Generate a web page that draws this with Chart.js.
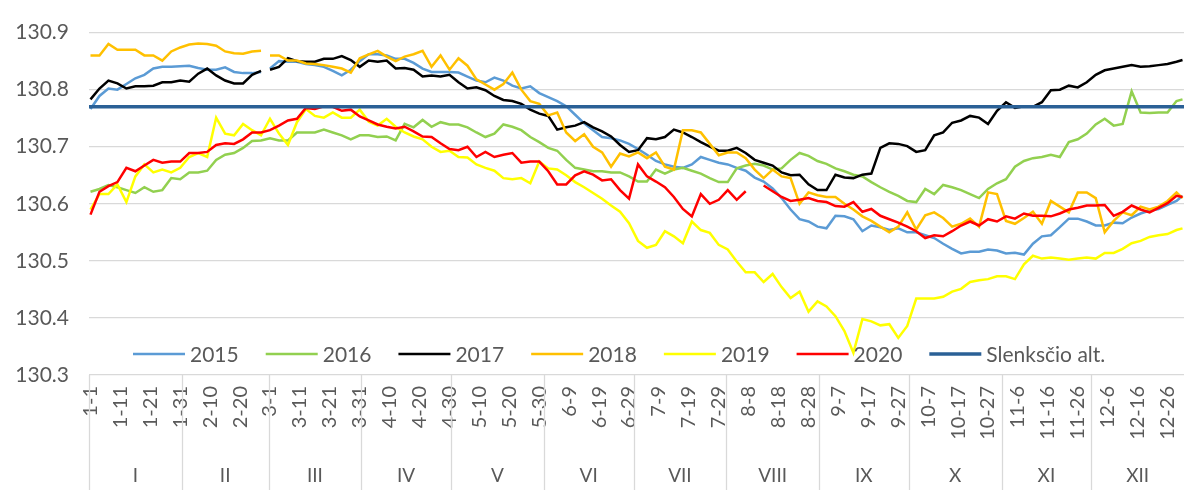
<!DOCTYPE html>
<html>
<head>
<meta charset="utf-8">
<title>Vandens lygis</title>
<script src="https://cdn.jsdelivr.net/npm/chart.js@4.4.1/dist/chart.umd.min.js"></script>
<style>
  html, body { margin: 0; padding: 0; background: #fff; }
</style>
</head>
<body>
<canvas id="chart" width="1184" height="490"></canvas>
<script>
// values are stored for every 3rd day of a (leap) year, plus Dec 31
const days = [];
for (let d = 0; d <= 363; d += 3) days.push(d);
days.push(365);

const y2015 = [
  130.766, 130.789, 130.802, 130.800, 130.810, 130.820, 130.826, 130.837, 130.840, 130.840, 130.841, 130.842, 130.838, 130.835, 130.835, 130.839, 130.831, 130.829, 130.829, 130.831,
  130.837, 130.850, 130.849, 130.849, 130.845, 130.843, 130.840, 130.833, 130.825, 130.835, 130.850, 130.862, 130.862, 130.860, 130.854, 130.854, 130.847, 130.837, 130.831, 130.831,
  130.831, 130.830, 130.823, 130.816, 130.813, 130.821, 130.816, 130.807, 130.802, 130.806, 130.794, 130.787, 130.780, 130.771, 130.756, 130.741, 130.729, 130.717, 130.715, 130.711,
  130.705, 130.696, 130.686, 130.675, 130.669, 130.665, 130.663, 130.669, 130.682, 130.677, 130.672, 130.669, 130.663, 130.658, 130.646, 130.639, 130.627, 130.610, 130.590, 130.573,
  130.569, 130.560, 130.557, 130.579, 130.578, 130.573, 130.552, 130.562, 130.559, 130.554, 130.557, 130.550, 130.550, 130.545, 130.540, 130.530, 130.521, 130.513, 130.516, 130.516,
  130.520, 130.518, 130.513, 130.514, 130.511, 130.530, 130.543, 130.545, 130.559, 130.574, 130.574, 130.569, 130.562, 130.562, 130.567, 130.566, 130.576, 130.583, 130.588, 130.591,
  130.598, 130.605, 130.614
];
const y2016 = [
  130.621, 130.626, 130.633, 130.629, 130.624, 130.619, 130.629, 130.621, 130.624, 130.645, 130.643, 130.655, 130.655, 130.658, 130.677, 130.686, 130.689, 130.698, 130.710, 130.711,
  130.715, 130.711, 130.711, 130.725, 130.725, 130.725, 130.730, 130.725, 130.720, 130.713, 130.720, 130.720, 130.717, 130.718, 130.711, 130.740, 130.734, 130.747, 130.735, 130.743,
  130.739, 130.739, 130.734, 130.725, 130.717, 130.723, 130.739, 130.735, 130.729, 130.717, 130.708, 130.698, 130.693, 130.677, 130.663, 130.660, 130.657, 130.657, 130.655, 130.655,
  130.648, 130.639, 130.639, 130.660, 130.653, 130.660, 130.663, 130.658, 130.653, 130.645, 130.638, 130.638, 130.662, 130.667, 130.670, 130.667, 130.660, 130.662, 130.677, 130.689,
  130.684, 130.675, 130.670, 130.662, 130.657, 130.651, 130.648, 130.638, 130.629, 130.621, 130.614, 130.605, 130.603, 130.626, 130.617, 130.633, 130.629, 130.624, 130.617, 130.610,
  130.626, 130.636, 130.643, 130.665, 130.675, 130.680, 130.682, 130.686, 130.682, 130.708, 130.713, 130.723, 130.739, 130.749, 130.737, 130.740, 130.797, 130.760, 130.759, 130.760,
  130.760, 130.780, 130.783
];
const y2017 = [
  130.783, 130.802, 130.816, 130.811, 130.802, 130.806, 130.806, 130.807, 130.813, 130.813, 130.816, 130.814, 130.828, 130.837, 130.825, 130.816, 130.811, 130.811, 130.826, 130.833,
  130.835, 130.840, 130.855, 130.850, 130.849, 130.849, 130.854, 130.854, 130.859, 130.852, 130.840, 130.851, 130.849, 130.851, 130.837, 130.838, 130.835, 130.823, 130.825, 130.823,
  130.826, 130.813, 130.802, 130.804, 130.799, 130.789, 130.782, 130.780, 130.775, 130.765, 130.758, 130.754, 130.730, 130.734, 130.737, 130.743, 130.734, 130.727, 130.718, 130.703,
  130.691, 130.694, 130.715, 130.713, 130.717, 130.730, 130.725, 130.717, 130.708, 130.700, 130.693, 130.693, 130.698, 130.689, 130.677, 130.672, 130.667, 130.655, 130.650, 130.651,
  130.634, 130.624, 130.624, 130.651, 130.646, 130.645, 130.651, 130.653, 130.698, 130.706, 130.705, 130.701, 130.691, 130.694, 130.720, 130.725, 130.742, 130.746, 130.754, 130.751,
  130.740, 130.763, 130.778, 130.768, 130.771, 130.770, 130.778, 130.799, 130.800, 130.807, 130.804, 130.813, 130.826, 130.834, 130.837, 130.840, 130.843, 130.840, 130.841, 130.843,
  130.845, 130.849, 130.852
];
const y2018 = [
  130.860, 130.860, 130.880, 130.870, 130.870, 130.870, 130.860, 130.860, 130.851, 130.867, 130.874, 130.879, 130.881, 130.880, 130.877, 130.867, 130.864, 130.863, 130.867, 130.868,
  130.860, 130.860, 130.851, 130.851, 130.846, 130.845, 130.843, 130.840, 130.837, 130.830, 130.855, 130.862, 130.868, 130.858, 130.850, 130.858, 130.862, 130.868, 130.840, 130.860,
  130.835, 130.855, 130.842, 130.818, 130.809, 130.800, 130.810, 130.830, 130.800, 130.780, 130.775, 130.755, 130.760, 130.725, 130.710, 130.722, 130.700, 130.690, 130.665, 130.688,
  130.683, 130.690, 130.680, 130.690, 130.665, 130.660, 130.729, 130.729, 130.725, 130.705, 130.685, 130.690, 130.690, 130.680, 130.660, 130.645, 130.660, 130.648, 130.645, 130.600,
  130.620, 130.615, 130.612, 130.612, 130.600, 130.590, 130.578, 130.570, 130.560, 130.550, 130.560, 130.585, 130.555, 130.580, 130.585, 130.575, 130.560, 130.565, 130.574, 130.560,
  130.620, 130.617, 130.570, 130.565, 130.575, 130.586, 130.565, 130.605, 130.595, 130.585, 130.620, 130.620, 130.610, 130.550, 130.570, 130.585, 130.580, 130.595, 130.590, 130.595,
  130.605, 130.620, 130.610
];
const y2019 = [
  130.590, 130.617, 130.617, 130.634, 130.603, 130.648, 130.669, 130.655, 130.660, 130.655, 130.663, 130.682, 130.689, 130.682, 130.751, 130.723, 130.720, 130.740, 130.729, 130.720,
  130.749, 130.723, 130.703, 130.743, 130.766, 130.754, 130.751, 130.760, 130.751, 130.751, 130.765, 130.744, 130.737, 130.749, 130.735, 130.725, 130.718, 130.713, 130.700, 130.691,
  130.693, 130.682, 130.681, 130.669, 130.663, 130.658, 130.645, 130.643, 130.645, 130.636, 130.674, 130.662, 130.660, 130.650, 130.638, 130.629, 130.619, 130.609, 130.597, 130.586,
  130.566, 130.535, 130.523, 130.528, 130.552, 130.543, 130.531, 130.569, 130.554, 130.549, 130.528, 130.520, 130.499, 130.480, 130.480, 130.463, 130.477, 130.454, 130.435, 130.446,
  130.411, 130.429, 130.420, 130.403, 130.377, 130.339, 130.398, 130.394, 130.387, 130.389, 130.365, 130.386, 130.434, 130.434, 130.434, 130.437, 130.446, 130.451, 130.463, 130.466,
  130.468, 130.473, 130.473, 130.468, 130.494, 130.509, 130.504, 130.506, 130.504, 130.502, 130.504, 130.506, 130.504, 130.514, 130.514, 130.521, 130.531, 130.535, 130.542, 130.545,
  130.547, 130.554, 130.557
];
const y2020 = [
  130.581, 130.621, 130.631, 130.638, 130.663, 130.657, 130.667, 130.677, 130.672, 130.674, 130.674, 130.689, 130.689, 130.691, 130.703, 130.706, 130.705, 130.713, 130.725, 130.725,
  130.729, 130.737, 130.746, 130.749, 130.768, 130.766, 130.771, 130.770, 130.763, 130.765, 130.753, 130.746, 130.739, 130.735, 130.732, 130.735, 130.727, 130.718, 130.717, 130.706,
  130.696, 130.694, 130.700, 130.682, 130.691, 130.682, 130.686, 130.689, 130.672, 130.674, 130.674, 130.657, 130.634, 130.634, 130.650, 130.657, 130.651, 130.641, 130.643, 130.624,
  130.609, 130.669, 130.648, 130.639, 130.629, 130.612, 130.591, 130.578, 130.617, 130.600, 130.607, 130.624, 130.607, 130.622, null, 130.632, 130.622, 130.612, 130.605, 130.607,
  130.610, 130.605, 130.603, 130.596, 130.595, 130.603, 130.586, 130.591, 130.579, 130.573, 130.567, 130.560, 130.552, 130.540, 130.545, 130.543, 130.552, 130.562, 130.569, 130.562,
  130.573, 130.569, 130.578, 130.574, 130.583, 130.579, 130.579, 130.578, 130.583, 130.590, 130.593, 130.597, 130.597, 130.598, 130.579, 130.586, 130.597, 130.590, 130.585, 130.593,
  130.601, 130.614, 130.612
];
const threshold = 130.77;

const tickLabels = ['1-1', '1-11', '1-21', '1-31', '2-10', '2-20', '3-1', '3-11', '3-21', '3-31', '4-10', '4-20',
  '4-30', '5-10', '5-20', '5-30', '6-9', '6-19', '6-29', '7-9', '7-19', '7-29', '8-8', '8-18', '8-28', '9-7',
  '9-17', '9-27', '10-7', '10-17', '10-27', '11-6', '11-16', '11-26', '12-6', '12-16', '12-26'];
const monthLabels = ['I', 'II', 'III', 'IV', 'V', 'VI', 'VII', 'VIII', 'IX', 'X', 'XI', 'XII'];
const monthDays = [31, 29, 31, 30, 31, 30, 31, 31, 30, 31, 30, 31];

const TEXT = '#595959';
const GRID = '#d9d9d9';
const FONT = 'Lato, "Open Sans", sans-serif';

const series = [
  { label: '2015', values: y2015, color: '#5b9bd5', leap: false },
  { label: '2016', values: y2016, color: '#92d050', leap: true },
  { label: '2017', values: y2017, color: '#000000', leap: false },
  { label: '2018', values: y2018, color: '#ffc000', leap: false },
  { label: '2019', values: y2019, color: '#ffff00', leap: true },
  { label: '2020', values: y2020, color: '#ff0000', leap: true }
];

// years without Feb 29 get a break in the line there
function toPoints(values, leap) {
  const pts = [];
  values.forEach((v, i) => {
    if (!leap && days[i] === 60) pts.push({ x: 59.5, y: null });
    pts.push({ x: days[i] + 0.5, y: v });
  });
  return pts;
}

const datasets = series.map((s, i) => ({
  label: s.label,
  data: toPoints(s.values, s.leap),
  borderColor: s.color,
  backgroundColor: s.color,
  borderWidth: 2.5,
  pointRadius: 0,
  tension: 0,
  order: 10 - i
}));
datasets.push({
  label: 'Slenksčio alt.',
  data: [{ x: 0, y: threshold }, { x: 366, y: threshold }],
  borderColor: '#2a6096',
  backgroundColor: '#2a6096',
  borderWidth: 3.5,
  pointRadius: 0,
  order: 0
});

// month separators and roman month names under the day labels
const monthAxis = {
  id: 'monthAxis',
  afterDraw(chart) {
    const ctx = chart.ctx;
    const x = chart.scales.x;
    const top = chart.chartArea.bottom;
    ctx.save();
    ctx.strokeStyle = GRID;
    ctx.lineWidth = 1.3;
    ctx.fillStyle = TEXT;
    ctx.font = '19px ' + FONT;
    ctx.textAlign = 'center';
    ctx.textBaseline = 'middle';
    let start = 0;
    monthDays.forEach((n, i) => {
      const x0 = x.getPixelForValue(start);
      const x1 = x.getPixelForValue(start + n);
      ctx.beginPath();
      ctx.moveTo(Math.round(x0) + 0.5, top);
      ctx.lineTo(Math.round(x0) + 0.5, chart.height);
      ctx.stroke();
      ctx.fillText(monthLabels[i], (x0 + x1) / 2, 476);
      start += n;
    });
    ctx.restore();
  }
};

// legend sits inside the plot, just above the bottom gridline
const insideLegend = {
  id: 'insideLegend',
  afterDatasetsDraw(chart) {
    const ctx = chart.ctx;
    const y = 354;
    let x = chart.chartArea.left + 44;
    ctx.save();
    ctx.font = '21px ' + FONT;
    ctx.textBaseline = 'middle';
    ctx.fillStyle = TEXT;
    chart.data.datasets.forEach(ds => {
      ctx.strokeStyle = ds.borderColor;
      ctx.lineWidth = ds.borderWidth;
      ctx.beginPath();
      ctx.moveTo(x, y);
      ctx.lineTo(x + 52, y);
      ctx.stroke();
      ctx.fillText(ds.label, x + 57, y + 1);
      x += 57 + ctx.measureText(ds.label).width + 27;
    });
    ctx.restore();
  }
};

new Chart(document.getElementById('chart'), {
  type: 'line',
  data: { datasets: datasets },
  options: {
    responsive: false,
    animation: false,
    devicePixelRatio: 1,
    layout: { padding: { top: 25, right: 0, bottom: 0, left: 0 } },
    plugins: { legend: { display: false }, tooltip: { enabled: false } },
    scales: {
      x: {
        type: 'linear',
        min: 0,
        max: 366,
        grid: { display: false },
        border: { display: false },
        afterBuildTicks: scale => {
          scale.ticks = tickLabels.map((t, i) => ({ value: i * 10 + 0.5 }));
        },
        afterFit: scale => {
          scale.height = 115;
          scale.paddingLeft = 0;
          scale.paddingRight = 0;
        },
        ticks: {
          autoSkip: false,
          minRotation: 90,
          maxRotation: 90,
          padding: 3,
          color: TEXT,
          font: { family: FONT, size: 20 },
          callback: (v, i) => tickLabels[i]
        }
      },
      y: {
        min: 130.3,
        max: 130.9,
        grid: { color: GRID, lineWidth: 1.3, drawTicks: false },
        border: { display: false },
        afterFit: scale => { scale.width = 89; },
        ticks: {
          stepSize: 0.1,
          padding: 20,
          color: TEXT,
          font: { family: FONT, size: 21 },
          callback: v => v.toFixed(1)
        }
      }
    }
  },
  plugins: [monthAxis, insideLegend]
});
</script>
</body>
</html>
